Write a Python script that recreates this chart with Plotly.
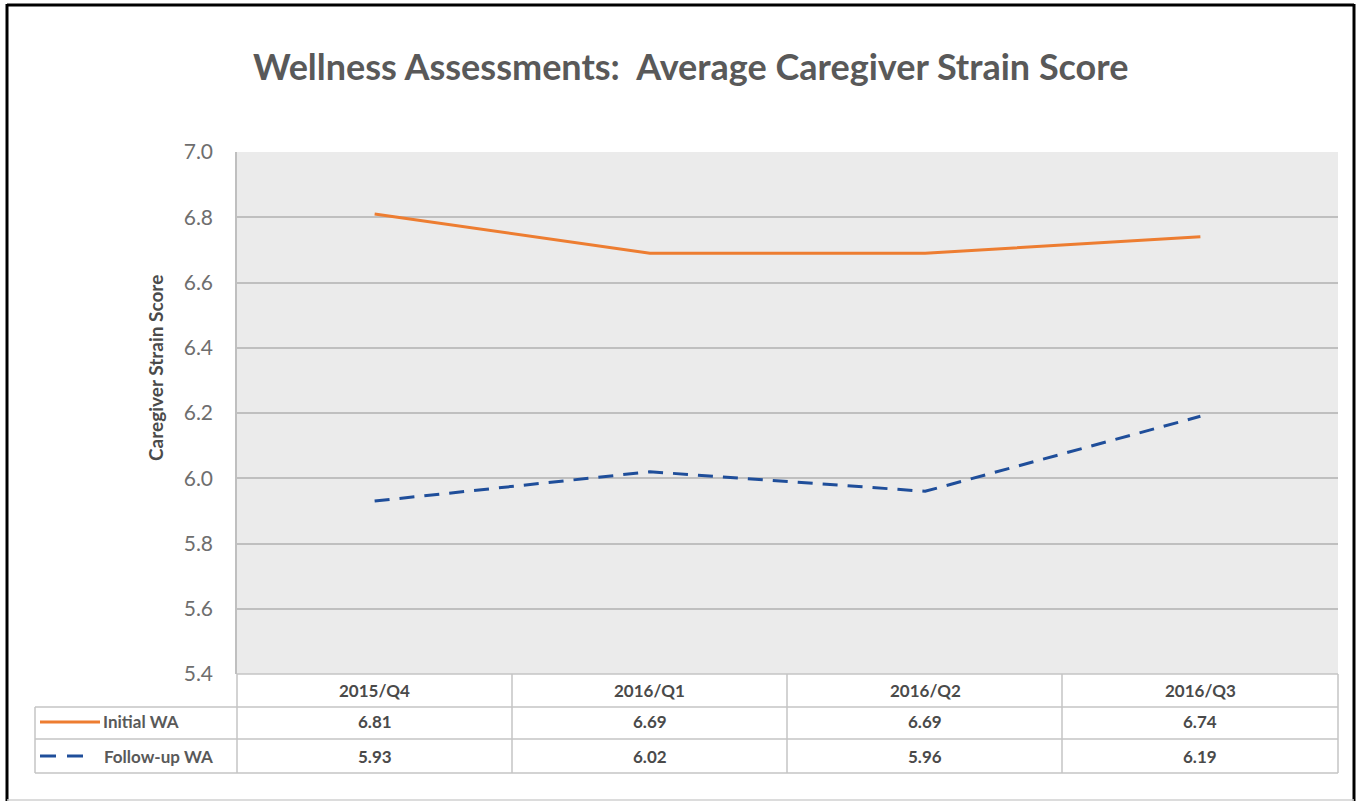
import plotly.graph_objects as go

# ---- data ----
quarters = ["2015/Q4", "2016/Q1", "2016/Q2", "2016/Q3"]
initial_wa = [6.81, 6.69, 6.69, 6.74]
followup_wa = [5.93, 6.02, 5.96, 6.19]
series_names = ["Initial WA", "Follow-up WA"]
y_ticks = [5.4, 5.6, 5.8, 6.0, 6.2, 6.4, 6.6, 6.8, 7.0]

W, H = 1361, 803
L, R, T, B = 237, 1338, 152, 674  # plot area in pixels

ORANGE = "#ED7D31"
BLUE = "#1F4E9A"
TXT = "#595959"
TICK = "#6E6E6E"
GRID = "#BFBFBF"
FONT = "Lato"


def px(p):
    return (p - L) / (R - L)


def py(p):
    return (B - p) / (B - T)


fig = go.Figure()
xs = list(range(len(quarters)))
fig.add_trace(go.Scatter(x=xs, y=initial_wa, mode="lines", name=series_names[0],
                         line=dict(color=ORANGE, width=3), showlegend=False))
fig.add_trace(go.Scatter(x=xs, y=followup_wa, mode="lines", name=series_names[1],
                         line=dict(color=BLUE, width=3, dash="15px,10px"), showlegend=False))

shapes = []
annotations = []

# outer frame: black left/top/right, light grey bottom
def frame_line(x0, y0, x1, y1, color, width):
    shapes.append(dict(type="line", xref="paper", yref="paper", x0=px(x0), x1=px(x1),
                       y0=py(y0), y1=py(y1), line=dict(color=color, width=width)))

frame_line(7, 4, 7, 801, "black", 3)
frame_line(7, 5, 1354, 5, "black", 3)
frame_line(1354, 4, 1354, 801, "black", 3)
frame_line(7, 800, 1354, 800, "#D0D0D0", 1.5)

# table lines
row_lines = [674, 707, 739, 773]
col_lines = [L, 512, 787, 1062, R]
tbl_color = "#C4C4C4"
shapes.append(dict(type="line", xref="paper", yref="paper", x0=px(L), x1=px(R),
                   y0=py(row_lines[0]), y1=py(row_lines[0]), line=dict(color=tbl_color, width=1.5)))
for yl in row_lines[1:]:
    shapes.append(dict(type="line", xref="paper", yref="paper", x0=px(35), x1=px(R),
                       y0=py(yl), y1=py(yl), line=dict(color=tbl_color, width=1.5)))
for xl in col_lines:
    shapes.append(dict(type="line", xref="paper", yref="paper", x0=px(xl), x1=px(xl),
                       y0=py(row_lines[0]), y1=py(row_lines[-1]), line=dict(color=tbl_color, width=1.5)))
shapes.append(dict(type="line", xref="paper", yref="paper", x0=px(35), x1=px(35),
                   y0=py(row_lines[1]), y1=py(row_lines[-1]), line=dict(color=tbl_color, width=1.5)))

# legend keys
shapes.append(dict(type="line", xref="paper", yref="paper", x0=px(40), x1=px(100),
                   y0=py(722), y1=py(722), line=dict(color=ORANGE, width=3)))
shapes.append(dict(type="line", xref="paper", yref="paper", x0=px(40), x1=px(56),
                   y0=py(756), y1=py(756), line=dict(color=BLUE, width=3)))
shapes.append(dict(type="line", xref="paper", yref="paper", x0=px(67), x1=px(83),
                   y0=py(756), y1=py(756), line=dict(color=BLUE, width=3)))

row_centers = [690, 722, 756]
cell_font = dict(family=FONT, size=17, color="#4A4A4A")
for i, q in enumerate(quarters):
    annotations.append(dict(text=f"<b>{q}</b>", x=i, xref="x", y=py(row_centers[0]), yref="paper",
                            showarrow=False, font=cell_font, xanchor="center", yanchor="middle"))
    annotations.append(dict(text=f"<b>{initial_wa[i]:.2f}</b>", x=i, xref="x", y=py(row_centers[1]),
                            yref="paper", showarrow=False, font=cell_font,
                            xanchor="center", yanchor="middle"))
    annotations.append(dict(text=f"<b>{followup_wa[i]:.2f}</b>", x=i, xref="x", y=py(row_centers[2]),
                            yref="paper", showarrow=False, font=cell_font,
                            xanchor="center", yanchor="middle"))

annotations.append(dict(text="<b>" + series_names[0] + "</b>", x=px(101), xref="paper", y=py(row_centers[1]),
                        yref="paper", showarrow=False, font=dict(family=FONT, size=17, color=TXT),
                        xanchor="left", yanchor="middle"))
annotations.append(dict(text="<b>" + series_names[1] + "</b>", x=px(102), xref="paper", y=py(row_centers[2]),
                        yref="paper", showarrow=False, font=dict(family=FONT, size=17, color=TXT),
                        xanchor="left", yanchor="middle"))

# title
annotations.append(dict(text="<b>Wellness Assessments:  Average Caregiver Strain Score</b>",
                        x=px(690), xref="paper", y=py(66), yref="paper", showarrow=False,
                        font=dict(family=FONT, size=36, color=TXT), xanchor="center", yanchor="middle"))
# y-axis title
annotations.append(dict(text="<b>Caregiver Strain Score</b>", x=px(155), xref="paper", y=py(368),
                        yref="paper", showarrow=False, textangle=-90,
                        font=dict(family=FONT, size=19, color="#4A4A4A"),
                        xanchor="center", yanchor="middle"))

fig.update_layout(
    width=W, height=H,
    margin=dict(l=L, r=W - R, t=T, b=H - B),
    paper_bgcolor="white",
    plot_bgcolor="#EBEBEB",
    shapes=shapes,
    annotations=annotations,
    xaxis=dict(range=[-0.5, 3.5], showticklabels=False, showgrid=False, zeroline=False,
               fixedrange=True),
    yaxis=dict(range=[5.4, 7.0], tickvals=y_ticks, ticktext=[f"{v:.1f}" for v in y_ticks],
               tickfont=dict(family=FONT, size=21, color=TICK), showgrid=True, gridcolor=GRID,
               gridwidth=1.5, zeroline=False, showline=True, linecolor=GRID, linewidth=1.5,
               ticks="", ticklabelstandoff=18, fixedrange=True),
    font=dict(family=FONT),
)

fig.write_html("out.html", config={"displayModeBar": False},
               post_script="document.body.style.margin='0';document.body.style.overflow='hidden';")
